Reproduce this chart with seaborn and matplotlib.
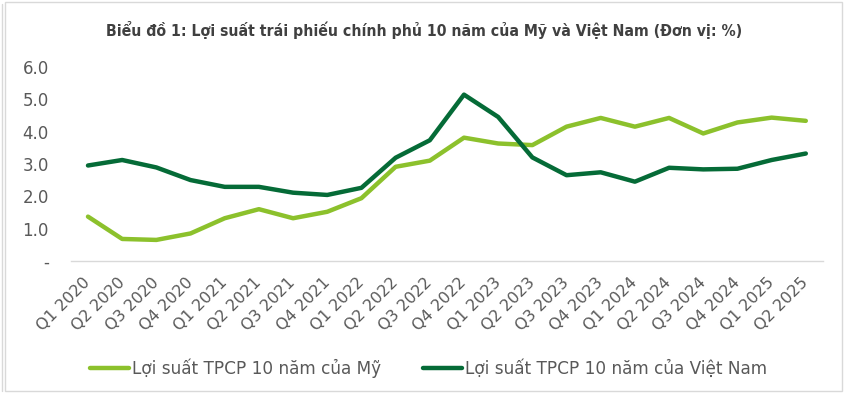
import matplotlib
matplotlib.use("Agg")
import matplotlib.pyplot as plt
import seaborn as sns
import pandas as pd
from matplotlib.lines import Line2D
from matplotlib.patches import Rectangle

quarters = ["Q1 2020", "Q2 2020", "Q3 2020", "Q4 2020", "Q1 2021", "Q2 2021",
            "Q3 2021", "Q4 2021", "Q1 2022", "Q2 2022", "Q3 2022", "Q4 2022",
            "Q1 2023", "Q2 2023", "Q3 2023", "Q4 2023", "Q1 2024", "Q2 2024",
            "Q3 2024", "Q4 2024", "Q1 2025", "Q2 2025"]
us_yield = [1.37, 0.68, 0.65, 0.85, 1.32, 1.60, 1.32, 1.52, 1.94, 2.91, 3.10,
            3.81, 3.63, 3.58, 4.15, 4.42, 4.15, 4.42, 3.94, 4.28, 4.43, 4.33]
vn_yield = [2.95, 3.12, 2.89, 2.50, 2.29, 2.29, 2.11, 2.04, 2.26, 3.19, 3.73,
            5.14, 4.45, 3.20, 2.65, 2.74, 2.45, 2.88, 2.83, 2.85, 3.12, 3.32]
series_names = ["Lợi suất TPCP 10 năm của Mỹ", "Lợi suất TPCP 10 năm của Việt Nam"]
yticks = [0, 1, 2, 3, 4, 5, 6]
ytick_labels = ["-", "1.0", "2.0", "3.0", "4.0", "5.0", "6.0"]
title = "Biểu đồ 1: Lợi suất trái phiếu chính phủ 10 năm của Mỹ và Việt Nam (Đơn vị: %)"

df = pd.DataFrame({
    "quarter": quarters * 2,
    "x": list(range(len(quarters))) * 2,
    "value": us_yield + vn_yield,
    "series": [series_names[0]] * len(quarters) + [series_names[1]] * len(quarters),
})

sns.set_theme(style="white")
plt.rcParams["font.family"] = ["DejaVu Sans"]

fig = plt.figure(figsize=(8.44, 3.93), dpi=100)
ax = fig.add_axes([0.084, 0.336, 0.891, 0.494])

palette = {series_names[0]: "#8CC12C", series_names[1]: "#056B37"}
sns.lineplot(data=df, x="x", y="value", hue="series", palette=palette,
             linewidth=3.2, ax=ax, legend=False, solid_capstyle="round")

ax.set_xlim(-0.5, len(quarters) - 0.5)
ax.set_ylim(0, 6)
ax.set_yticks(yticks)
ax.set_yticklabels(ytick_labels, color="#595959", fontsize=12)
ax.set_xticks(range(len(quarters)))
ax.set_xticklabels(quarters, rotation=45, ha="right", va="center",
                   rotation_mode="anchor", color="#595959", fontsize=11.5)
ax.tick_params(axis="x", length=0, pad=14)
ax.tick_params(axis="y", length=0, pad=16)
ax.set_xlabel("")
ax.set_ylabel("")
for s in ["top", "right", "left"]:
    ax.spines[s].set_visible(False)
ax.spines["bottom"].set_color("#D9D9D9")
ax.spines["bottom"].set_linewidth(1)
ax.grid(False)

handles = [Line2D([], [], color=palette[n], linewidth=3.2) for n in series_names]
fig.legend(handles, series_names, loc="center", bbox_to_anchor=(0.508, 0.064),
           ncol=2, frameon=False, handlelength=2.3, handletextpad=0.15,
           columnspacing=2.5, prop={"family": "DejaVu Sans", "size": 12.2})
for t in fig.legends[0].get_texts():
    t.set_color("#595959")

fig.text(0.503, 0.924, title, ha="center", va="center", fontsize=11.3,
         fontweight="bold", fontstretch="condensed", color="#404040",
         family=["DejaVu Sans"])

# chart frame
W, H = 844, 393
fig.patches.append(Rectangle((5 / W, 2 / H), (842 - 5) / W, (391 - 2) / H,
                             transform=fig.transFigure, fill=False,
                             edgecolor="#D9D9D9", linewidth=1))
fig.lines.append(Line2D([2 / W, 2 / W], [2 / H, 389 / H], transform=fig.transFigure,
                        color="#D9D9D9", linewidth=1))

fig.savefig("out.png", dpi=100)
